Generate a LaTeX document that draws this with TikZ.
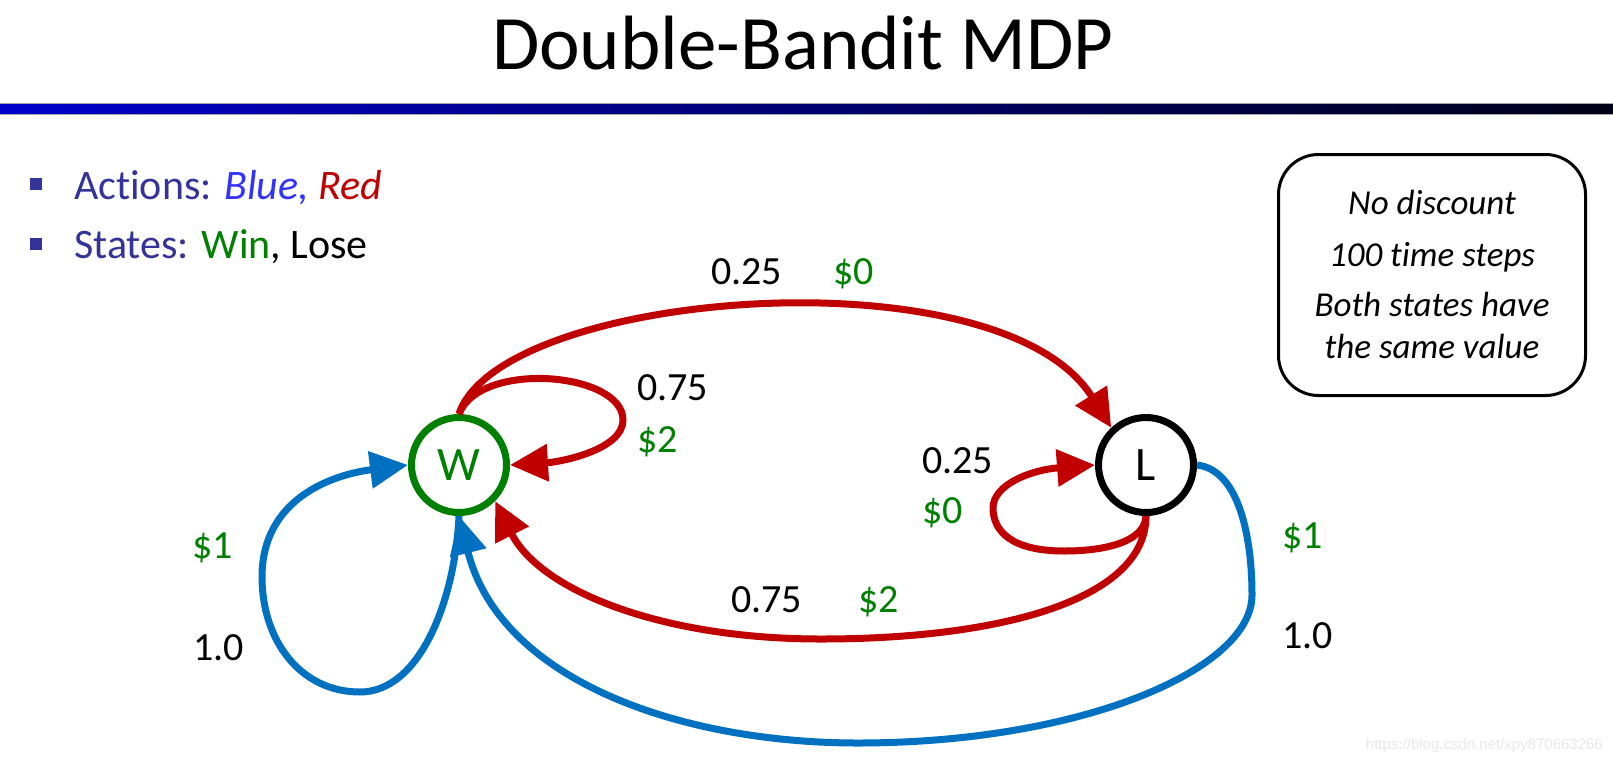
\documentclass[tikz,border=0pt]{standalone}
\usepackage{fontspec}
\setmainfont{Carlito}[Ligatures=NoCommon]
\newfontfamily\wmfont{Liberation Sans}
\usetikzlibrary{arrows.meta}
\definecolor{myred}{RGB}{192,0,0}
\definecolor{myblue}{RGB}{0,112,192}
\definecolor{mygreen}{RGB}{0,128,0}
\definecolor{slateblue}{RGB}{51,51,153}
\definecolor{actblue}{RGB}{51,51,255}
\definecolor{barblue}{RGB}{0,0,204}
\definecolor{bardark}{RGB}{0,0,24}
\definecolor{wmgray}{RGB}{232,232,232}
\begin{document}
\begin{tikzpicture}[x=1pt,y=-1pt,
  state/.style={circle, line width=7pt, minimum size=95pt, inner sep=0pt, font=\fontsize{48}{56}\selectfont},
  redarr/.style={draw=myred, line width=7pt, -{Triangle[length=38pt,width=36pt]}},
  bluearr/.style={draw=myblue, line width=7pt, -{Triangle[length=38pt,width=36pt]}},
  lab/.style={anchor=base west, inner sep=0pt, font=\fontsize{40}{48}\selectfont},
  boxtxt/.style={anchor=base, inner sep=0pt, font=\fontsize{35}{42}\selectfont\itshape},
  bullet/.style={fill=slateblue, minimum size=12pt, inner sep=0pt},
  bultxt/.style={anchor=base west, inner sep=0pt, font=\fontsize{42}{50}\selectfont, text=slateblue},
]
\useasboundingbox (0,0) rectangle (1613,763);
\fill[white] (0,0) rectangle (1613,763);

% title and bar
\node[anchor=base, inner sep=0pt, font=\fontsize{77}{90}\selectfont] (title) at (803,69) {Double-Bandit MDP};
\shade[left color=barblue, right color=bardark] (0,103) rectangle (1613,114);
\draw[gray!70, line width=0.8pt] (0,103) -- (1613,103) (0,114) -- (1613,114);

% bullets
\node[bullet] (b1) at (35.5,184) {};
\node[bullet] (b2) at (35.5,244) {};
\node[bultxt] (act) at (74,199) {Actions: \textcolor{actblue}{\itshape Blue,} \textcolor{myred}{\itshape Red}};
\node[bultxt] (st) at (74,258) {States: \textcolor{mygreen}{Win}\textcolor{black}{, Lose}};

% info box
\node[draw, line width=3pt, rounded corners=40pt, minimum width=307pt, minimum height=241pt, inner sep=0pt] (info) at (1432,275) {};
\node[boxtxt] (i1) at (1432,214) {No discount};
\node[boxtxt] (i2) at (1432,266) {100 time steps};
\node[boxtxt] (i3) at (1432,316) {Both states have};
\node[boxtxt] (i4) at (1432,358) {the same value};

% states
\node[state, draw=mygreen, text=mygreen] (W) at (459,465) {W};
\node[state, draw=black] (L) at (1146,465) {L};

% red action
\draw[redarr] (W.90) .. controls (500,290) and (1000,250) .. (L.133);
\draw[redarr] (W.90) .. controls (480,360) and (623,372) .. (623,420) .. controls (623,450) and (560,462) .. (W.0);
\draw[redarr] (L.270) .. controls (1145,540) and (1110,551) .. (1064,551) .. controls (1010,551) and (993,530) .. (993,508) .. controls (993,485) and (1030,470) .. (L.180);
\draw[redarr] (L.270) .. controls (1146,600) and (1000,639) .. (821,639) .. controls (660,639) and (540,590) .. (W.-45);

% blue action
\draw[bluearr] (W.270) .. controls (455,600) and (420,692) .. (360,692) .. controls (300,692) and (262,640) .. (262,577) .. controls (262,500) and (330,475) .. (W.180);
\draw[bluearr] (L.0) .. controls (1240,470) and (1252,540) .. (1252,595) .. controls (1252,670) and (1080,743) .. (858,743) .. controls (680,743) and (500,680) .. (W.270);

% labels
\node[lab] (p1) at (711,284) {0.25};
\node[lab, text=mygreen] (r1) at (833,284) {\$0};
\node[lab] (p2) at (637,400) {0.75};
\node[lab, text=mygreen] (r2) at (637,452) {\$2};
\node[lab] (p3) at (922,473) {0.25};
\node[lab, text=mygreen] (r3) at (922,523) {\$0};
\node[lab] (p4) at (731,612) {0.75};
\node[lab, text=mygreen] (r4) at (858,612) {\$2};
\node[lab, text=mygreen] (r5) at (192,558) {\$1};
\node[lab] (p5) at (193,660) {1.0};
\node[lab, text=mygreen] (r6) at (1282,548) {\$1};
\node[lab] (p6) at (1282,648) {1.0};

% watermark
\node[anchor=base east, inner sep=0pt, font=\wmfont\fontsize{15}{18}\selectfont, text=wmgray] (wm) at (1603,749) {https://blog.csdn.net/xpy870663266};
\end{tikzpicture}
\end{document}
